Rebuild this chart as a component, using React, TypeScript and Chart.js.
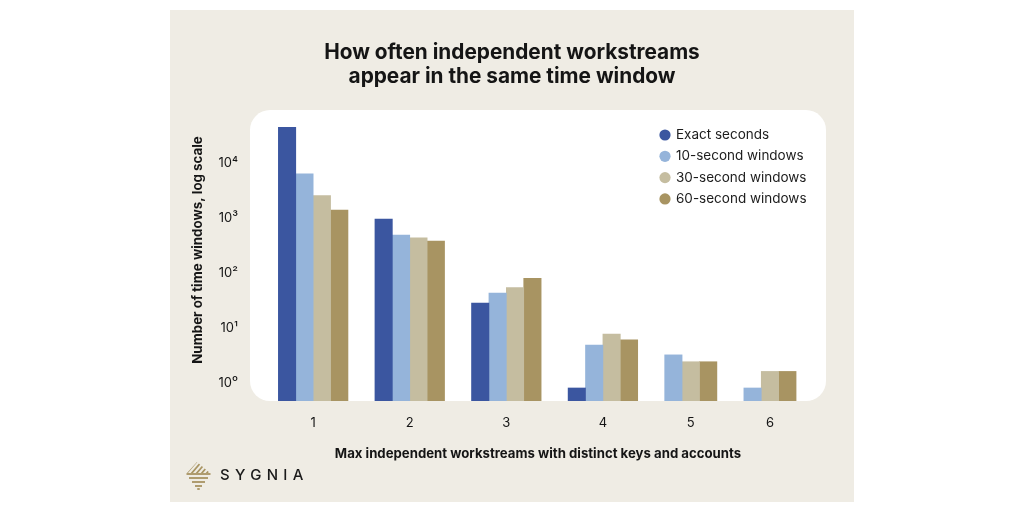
import React, { useEffect, useRef } from 'react';
import { Chart, registerables } from 'chart.js';

Chart.register(...registerables);

// ---- Data ----
const categories = ['1', '2', '3', '4', '5', '6'];
const seriesLabels = ['Exact seconds', '10-second windows', '30-second windows', '60-second windows'];
const exactSeconds = [54500, 1180, 35, 1, null, null];
const tenSecondWindows = [7800, 600, 53, 6, 4, 1];
const thirtySecondWindows = [3150, 535, 67, 9.5, 3, 2];
const sixtySecondWindows = [1720, 470, 99, 7.5, 3, 2];
const yTickValues = [1, 10, 100, 1000, 10000];
const yTickLabels = ['10⁰', '10¹', '10²', '10³', '10⁴'];
const titleLines = ['How often independent workstreams', 'appear in the same time window'];
const xAxisTitle = 'Max independent workstreams with distinct keys and accounts';
const yAxisTitle = 'Number of time windows, log scale';
const brandName = 'SYGNIA';

// ---- Style ----
const seriesColors = ['#3b56a0', '#95b4da', '#c5bda0', '#a89462'];
const FONT = 'Inter, "Noto Sans", sans-serif';
const TEXT = '#151515';
const BEIGE = '#efece4';
const BAR_PX = 17.4;
const GAP_SLOTS = 1.55;
const X_MIN = -1.63;
const X_MAX = 31.47;

const seriesValues = [exactSeconds, tenSecondWindows, thirtySecondWindows, sixtySecondWindows];

// category centres in "bar slot" units, groups packed with only the present bars
const counts = categories.map((_, i) => seriesValues.filter((s) => s[i] != null).length);
const centers: number[] = [];
{
  let acc = 0;
  counts.forEach((c) => {
    centers.push(acc + c / 2);
    acc += c + GAP_SLOTS;
  });
}

function roundRect(ctx: CanvasRenderingContext2D, x: number, y: number, w: number, h: number, r: number) {
  ctx.beginPath();
  ctx.moveTo(x + r, y);
  ctx.lineTo(x + w - r, y);
  ctx.arcTo(x + w, y, x + w, y + r, r);
  ctx.lineTo(x + w, y + h - r);
  ctx.arcTo(x + w, y + h, x + w - r, y + h, r);
  ctx.lineTo(x + r, y + h);
  ctx.arcTo(x, y + h, x, y + h - r, r);
  ctx.lineTo(x, y + r);
  ctx.arcTo(x, y, x + r, y, r);
  ctx.closePath();
}

const backgroundPlugin = {
  id: 'panelBackground',
  beforeDraw(chart: any) {
    const { ctx, chartArea, width, height } = chart;
    ctx.save();
    ctx.fillStyle = '#ffffff';
    ctx.fillRect(0, 0, width, height);
    ctx.fillStyle = BEIGE;
    ctx.fillRect(170, 10, 684, 492);
    ctx.fillStyle = '#ffffff';
    roundRect(ctx, chartArea.left, chartArea.top, chartArea.right - chartArea.left, chartArea.bottom - chartArea.top, 20);
    ctx.fill();
    ctx.restore();
  },
};

const yTitlePlugin = {
  id: 'yTitle',
  afterDraw(chart: any) {
    const { ctx } = chart;
    ctx.save();
    ctx.translate(198, 250);
    ctx.rotate(-Math.PI / 2);
    ctx.font = `bold 13.3px ${FONT}`;
    ctx.fillStyle = TEXT;
    ctx.textAlign = 'center';
    ctx.textBaseline = 'middle';
    ctx.fillText(yAxisTitle, 0, 0);
    ctx.restore();
  },
};

const insideLegendPlugin = {
  id: 'insideLegend',
  afterDatasetsDraw(chart: any) {
    const { ctx, chartArea } = chart;
    const x0 = chartArea.right - 161;
    const y0 = chartArea.top + 25;
    ctx.save();
    ctx.font = `13.5px ${FONT}`;
    ctx.textBaseline = 'middle';
    ctx.textAlign = 'left';
    chart.data.datasets.forEach((ds: any, i: number) => {
      const y = y0 + i * 21.3;
      ctx.fillStyle = ds.backgroundColor;
      ctx.beginPath();
      ctx.arc(x0, y, 5.6, 0, Math.PI * 2);
      ctx.fill();
      ctx.fillStyle = '#1c1c1c';
      ctx.fillText(ds.label, x0 + 11, y);
    });
    ctx.restore();
  },
};

const brandPlugin = {
  id: 'brand',
  afterDraw(chart: any) {
    const { ctx } = chart;
    const gold = '#a89462';
    ctx.save();
    ctx.beginPath();
    ctx.moveTo(197, 462);
    ctx.lineTo(187, 473);
    ctx.lineTo(210, 473);
    ctx.closePath();
    ctx.save();
    ctx.clip();
    ctx.strokeStyle = gold;
    ctx.lineWidth = 1.7;
    for (let k = 0; k < 5; k++) {
      ctx.beginPath();
      ctx.moveTo(186 + k * 5, 474);
      ctx.lineTo(198 + k * 5, 460);
      ctx.stroke();
    }
    ctx.restore();
    ctx.fillStyle = gold;
    const stripes = [
      [474, 24],
      [478, 19],
      [482, 13],
      [486, 7],
      [489, 2.5],
    ];
    stripes.forEach(([y, w]) => {
      ctx.fillRect(198.5 - w / 2, y - 0.9, w, 1.8);
    });
    ctx.fillStyle = '#1a1a1a';
    ctx.font = `500 15px ${FONT}`;
    ctx.textBaseline = 'middle';
    (ctx as any).letterSpacing = '5.3px';
    ctx.fillText(brandName, 220, 475);
    ctx.restore();
  },
};

export default function App() {
  const canvasRef = useRef<HTMLCanvasElement>(null);

  useEffect(() => {
    document.body.style.margin = '0';
    const canvas = canvasRef.current;
    if (!canvas) return;
    const chart = new Chart(canvas, {
      type: 'bar',
      data: {
        datasets: seriesValues.map((vals, s) => ({
          label: seriesLabels[s],
          data: vals.map((v, i) => ({ x: centers[i], y: v })),
          backgroundColor: seriesColors[s],
          borderWidth: 0,
          barThickness: BAR_PX,
          skipNull: true,
        })) as any,
      },
      options: {
        responsive: false,
        animation: false,
        devicePixelRatio: 1,
        layout: { padding: { top: 20, left: 198, right: 198, bottom: 41 } },
        plugins: {
          legend: { display: false },
          tooltip: { enabled: false },
          title: {
            display: true,
            text: titleLines,
            color: TEXT,
            font: { family: FONT, size: 20.8, weight: 'bold', lineHeight: 1.2 },
            padding: { top: 19.8, bottom: 20.3 },
          },
        },
        scales: {
          x: {
            type: 'linear',
            offset: false,
            min: X_MIN,
            max: X_MAX,
            bounds: 'data',
            grid: { display: false, drawTicks: false, offset: false },
            border: { display: false },
            afterBuildTicks: (scale: any) => {
              scale.ticks = centers.map((value) => ({ value }));
            },
            afterFit: (scale: any) => {
              scale.height = 70;
            },
            ticks: {
              autoSkip: false,
              maxRotation: 0,
              padding: 14,
              color: TEXT,
              font: { family: FONT, size: 13 },
              callback: (_v: any, i: number) => categories[i],
            },
            title: {
              display: true,
              text: xAxisTitle,
              color: TEXT,
              font: { family: FONT, size: 13.2, weight: 'bold', lineHeight: 1.2 },
              padding: { top: 0, bottom: 9.2 },
            },
          },
          y: {
            type: 'logarithmic',
            min: 0.58,
            max: 113000,
            grid: { display: false, drawTicks: false },
            border: { display: false },
            afterBuildTicks: (scale: any) => {
              scale.ticks = yTickValues.map((value) => ({ value }));
            },
            afterFit: (scale: any) => {
              scale.width = 52;
            },
            ticks: {
              autoSkip: false,
              padding: 12,
              labelOffset: -5,
              color: TEXT,
              font: { family: FONT, size: 13 },
              callback: (_v: any, i: number) => yTickLabels[i],
            },
            title: { display: false },
          },
        },
      } as any,
      plugins: [backgroundPlugin, insideLegendPlugin, yTitlePlugin, brandPlugin],
    });
    return () => chart.destroy();
  }, []);

  return (
    <div style={{ position: 'absolute', left: 0, top: 0, width: 1024, height: 512 }}>
      <canvas ref={canvasRef} width={1024} height={512} style={{ display: 'block', width: 1024, height: 512 }} />
    </div>
  );
}
